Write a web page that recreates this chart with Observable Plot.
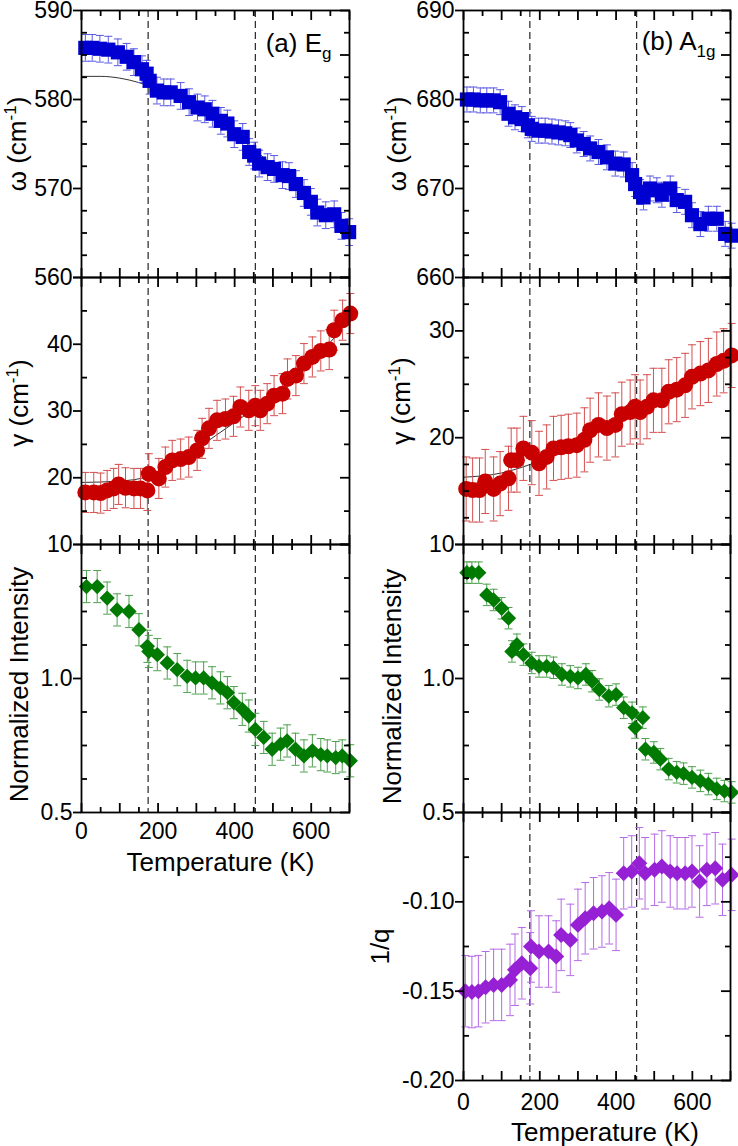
<!DOCTYPE html>
<html><head><meta charset="utf-8">
<script src="https://cdn.jsdelivr.net/npm/d3@7"></script>
<script src="https://cdn.jsdelivr.net/npm/@observablehq/plot@0.6"></script>
<style>
html,body{margin:0;padding:0;background:#fff;}
#chart{position:relative;width:738px;height:1146px;}
#chart svg{position:absolute;overflow:visible;background:transparent;}
</style></head><body><div id="chart"></div>
<script>
// ---------------- data ----------------
const transitionT = [174, 454];

// (a) Eg  frequency
const egOmegaT = [10, 28, 48, 70, 95, 118, 137, 158, 170, 178, 197, 215, 233, 259, 281, 303, 322, 342, 364, 381, 399, 421, 438, 451, 464, 486, 503, 525, 542, 560, 581, 599, 616, 638, 660, 679, 699];
const egOmega = [585.8, 585.8, 585.7, 585.6, 585.3, 584.8, 584.2, 583.4, 582.9, 582.1, 581.0, 580.8, 580.8, 580.4, 579.7, 579.1, 578.9, 578.4, 577.6, 577.3, 576.1, 575.8, 574.1, 573.7, 572.8, 572.4, 572.2, 571.5, 571.4, 570.5, 569.5, 568.5, 567.3, 567.0, 567.1, 565.8, 565.1];
const egOmegaErr = 1.5;
const egOmegaFitT = [0, 50, 100, 150, 200, 250, 300, 350, 400, 450, 500, 550, 600, 650, 700];
const egOmegaFit = [582.6, 582.6, 582.4, 581.9, 581.1, 580.1, 578.9, 577.6, 576.1, 574.4, 572.6, 570.7, 568.7, 566.6, 564.4];

// (a) Eg  linewidth
const egGammaT = [10, 32, 50, 67, 84, 97, 115, 137, 154, 172, 176, 202, 219, 237, 259, 280, 302, 315, 333, 354, 376, 397, 415, 437, 454, 467, 485, 503, 525, 538, 560, 581, 603, 625, 647, 660, 682, 702];
const egGamma = [17.8, 17.8, 17.7, 18.1, 18.4, 19.0, 18.5, 18.4, 18.4, 18.1, 20.6, 19.9, 21.6, 22.6, 22.8, 23.1, 24.1, 25.9, 27.4, 28.6, 28.8, 29.2, 30.6, 30.1, 30.8, 30.1, 31.1, 32.3, 32.6, 34.8, 35.3, 37.1, 38.1, 39.0, 39.2, 42.1, 43.6, 44.6];
const egGammaErr = 3.0;
const egGammaFitT = [0, 100, 175, 250, 350, 450, 550, 650, 700];
const egGammaFit = [19.3, 19.5, 20.2, 22.3, 26.3, 30.3, 34.5, 40.3, 43.8];

// (a) Eg  intensity
const egIntT = [13, 41, 67, 93, 124, 150, 172, 176, 198, 224, 250, 276, 298, 319, 341, 363, 381, 398, 420, 437, 454, 476, 498, 520, 537, 559, 581, 603, 625, 642, 664, 681, 702];
const egInt = [1.343, 1.343, 1.30, 1.256, 1.25, 1.182, 1.12, 1.101, 1.089, 1.058, 1.033, 1.008, 1.002, 1.002, 0.984, 0.965, 0.947, 0.91, 0.885, 0.86, 0.81, 0.78, 0.736, 0.755, 0.767, 0.736, 0.711, 0.73, 0.716, 0.711, 0.705, 0.711, 0.693];
const egIntErr = 0.06;

// (b) A1g frequency
const a1gOmegaT = [9, 26, 44, 61, 79, 96, 118, 135, 153, 169, 179, 197, 214, 232, 249, 267, 280, 297, 315, 332, 354, 376, 398, 420, 442, 450, 463, 472, 489, 507, 520, 542, 559, 581, 599, 621, 642, 664, 686, 703];
const a1gOmega = [680.0, 680.0, 679.9, 679.9, 679.9, 679.7, 678.4, 678.0, 677.8, 677.1, 676.7, 676.5, 676.5, 676.4, 676.3, 676.2, 676.0, 675.4, 675.0, 674.5, 674.1, 673.5, 672.8, 672.7, 671.5, 670.5, 669.6, 669.0, 670.0, 669.8, 669.3, 670.0, 668.7, 668.5, 667.0, 666.0, 666.6, 666.6, 664.9, 664.7];
const a1gOmegaErr = 1.4;

// (b) A1g linewidth
const a1gGammaT = [7, 24, 42, 57, 79, 96, 118, 125, 140, 157, 179, 198, 218, 236, 256, 275, 297, 317, 332, 354, 376, 398, 415, 437, 450, 463, 481, 498, 520, 538, 559, 581, 599, 621, 642, 664, 682, 703];
const a1gGamma = [15.2, 15.1, 15.1, 15.9, 15.2, 15.7, 16.2, 17.9, 17.9, 19.0, 18.6, 17.6, 18.2, 19.0, 19.1, 19.2, 19.3, 19.8, 20.7, 21.2, 20.9, 21.2, 22.2, 22.4, 22.9, 22.4, 22.9, 23.5, 23.5, 24.3, 24.5, 24.9, 25.7, 26.0, 26.3, 26.9, 27.2, 27.7];
const a1gGammaErr = 3.0;
const a1gGammaFitT = [0, 100, 175, 300, 450, 600, 700];
const a1gGammaFit = [16.3, 16.7, 17.5, 19.5, 22.5, 25.4, 27.5];

// (b) A1g intensity
const a1gIntT = [9, 22, 40, 61, 79, 100, 118, 127, 140, 157, 179, 198, 218, 236, 258, 280, 300, 321, 337, 356, 381, 400, 420, 442, 450, 470, 477, 499, 516, 538, 559, 577, 599, 621, 642, 664, 684, 703];
const a1gInt = [1.395, 1.395, 1.395, 1.312, 1.293, 1.262, 1.225, 1.101, 1.126, 1.089, 1.058, 1.045, 1.045, 1.04, 1.015, 1.008, 1.002, 1.015, 0.99, 0.959, 0.934, 0.94, 0.891, 0.872, 0.817, 0.854, 0.736, 0.724, 0.699, 0.662, 0.65, 0.645, 0.631, 0.618, 0.606, 0.588, 0.58, 0.575];
const a1gIntErr = 0.04;

// (b) A1g Fano asymmetry 1/q
const a1gQT = [5, 22, 39, 58, 79, 100, 122, 135, 153, 175, 177, 198, 223, 243, 256, 280, 300, 319, 341, 363, 382, 400, 420, 441, 461, 476, 501, 520, 542, 560, 581, 599, 619, 638, 660, 679, 703];
const a1gQ = [-0.150, -0.1505, -0.150, -0.1478, -0.1465, -0.1465, -0.1437, -0.138, -0.1344, -0.1372, -0.125, -0.1278, -0.1278, -0.1306, -0.1185, -0.1213, -0.1129, -0.1092, -0.1064, -0.1054, -0.1036, -0.1073, -0.084, -0.083, -0.0784, -0.084, -0.0821, -0.0802, -0.083, -0.084, -0.084, -0.083, -0.0886, -0.0821, -0.0812, -0.0877, -0.0849];
const a1gQErr = 0.02;

// tick values
const xDomain = [0, 700];
const xMajorTicks = [0, 100, 200, 300, 400, 500, 600, 700];
const xMinorTicks = [50, 150, 250, 350, 450, 550, 650];
const xLabelTicks = [0, 200, 400, 600];

// ---------------- helpers ----------------
const FONT = "'Liberation Sans', Arial, Helvetica, sans-serif";
const cap = {draw(ctx, size) { const w = Math.sqrt(size) / 2; ctx.moveTo(-w, 0); ctx.lineTo(w, 0); }};
const table = (T, V, E) => T.map((t, i) => ({T: t, v: V[i], e: E}));
const line = (T, V) => T.map((t, i) => ({T: t, v: V[i]}));

function makePanel(c) {
  const geo = c.col === 0 ? {left: 0, width: 368, ml: 81, mr: 19} : {left: 368, width: 370, ml: 95, mr: 8};
  const mt = 20, mb = c.bottom ? 80 : 20;
  const s = c.series;
  const marks = [
    Plot.ruleX(transitionT, {stroke: "#111", strokeWidth: 1.1, strokeDasharray: "7,4"}),
  ];
  if (c.fit) marks.push(Plot.line(c.fit, {x: "T", y: "v", stroke: "black", strokeWidth: 0.8, curve: "monotone-x"}));
  marks.push(
    Plot.ruleX(s.data, {x: "T", y1: d => d.v - d.e, y2: d => d.v + d.e, stroke: s.err, strokeWidth: 1}),
    Plot.dot(s.data, {x: "T", y: d => d.v - d.e, symbol: cap, r: 4.5, stroke: s.err, strokeWidth: 1, fill: "none"}),
    Plot.dot(s.data, {x: "T", y: d => d.v + d.e, symbol: cap, r: 4.5, stroke: s.err, strokeWidth: 1, fill: "none"}),
    Plot.dot(s.data, {x: "T", y: "v", symbol: s.symbol, r: s.r, fill: s.color, stroke: "none"}),
    Plot.frame({stroke: "black", strokeWidth: 1.8}),
    // x ticks, inward on top and bottom
    Plot.axisX({anchor: "top", ticks: xMajorTicks, tickSize: -9, strokeWidth: 1.8, fill: "none", label: null}),
    Plot.axisX({anchor: "top", ticks: xMinorTicks, tickSize: -5, strokeWidth: 1.8, fill: "none", label: null}),
    Plot.axisX({anchor: "bottom", ticks: xMajorTicks, tickSize: -9, strokeWidth: 1.8, fill: "none", label: null}),
    Plot.axisX({anchor: "bottom", ticks: xMinorTicks, tickSize: -5, strokeWidth: 1.8, fill: "none", label: null}),
    // y ticks
    Plot.axisY({anchor: "left", ticks: c.yOut, tickSize: 8, strokeWidth: 1.8, fill: "none", label: null}),
    Plot.axisY({anchor: "left", ticks: c.yMinor.concat(c.yMajor.filter(v => !c.yOut.includes(v))), tickSize: -6, strokeWidth: 1.8, fill: "none", label: null}),
    Plot.axisY({anchor: "right", ticks: c.yMajor, tickSize: -10, strokeWidth: 1.8, fill: "none", label: null}),
    Plot.axisY({anchor: "right", ticks: c.yMinor, tickSize: -6, strokeWidth: 1.8, fill: "none", label: null}),
    Plot.axisY({anchor: "left", ticks: c.yLabels, tickSize: 0, tickPadding: 9, tickFormat: c.yFmt, fontSize: 23, fill: "black", label: null}),
    Plot.text([c.yTitle], {text: d => d, frameAnchor: "left", textAnchor: "middle", lineAnchor: "middle", rotate: -90, dx: c.titleDx, dy: c.titleDy || 0, fontSize: 26, fill: "black"})
  );
  if (c.bottom) {
    marks.push(
      Plot.axisX({anchor: "bottom", ticks: xLabelTicks, tickSize: 0, tickPadding: c.col === 0 ? 10 : 13, tickFormat: d => String(d), fontSize: 23, fill: "black", label: null}),
      Plot.text(["Temperature (K)"], {text: d => d, frameAnchor: "bottom", textAnchor: "middle", lineAnchor: "top", dx: c.col === 0 ? 5 : 8, dy: c.col === 0 ? 40 : 42, fontSize: 26, fill: "black"})
    );
  }
  if (c.note) {
    marks.push(Plot.text([c.note], {text: d => d, frameAnchor: "top-right", textAnchor: "end", lineAnchor: "top", dx: c.noteDx, dy: c.noteDy, fontSize: 26, fill: "black"}));
  }
  const svg = Plot.plot({
    width: geo.width, height: c.frameH + mt + mb,
    marginLeft: geo.ml, marginRight: geo.mr, marginTop: mt, marginBottom: mb,
    x: {domain: xDomain},
    y: {domain: c.yDomain},
    style: {fontFamily: FONT, background: "transparent", overflow: "visible", color: "black"},
    marks
  });
  svg.style.left = geo.left + "px";
  svg.style.top = (c.frameTop - mt) + "px";
  richText(svg);
  document.getElementById("chart").appendChild(svg);
}

function tspan(parent, str, attrs) {
  const el = document.createElementNS("http://www.w3.org/2000/svg", "tspan");
  for (const k in attrs) el.setAttribute(k, attrs[k]);
  el.textContent = str;
  parent.appendChild(el);
}
function richText(svg) {
  svg.querySelectorAll("text").forEach(t => {
    const s = t.textContent;
    if (s.endsWith("(cm-1)")) {
      t.textContent = "";
      tspan(t, s.slice(0, -3), {});
      tspan(t, "-1", {dy: -10, "font-size": 17});
      tspan(t, ")", {dy: 10});
    } else if (s === "(a) Eg") {
      t.textContent = "";
      tspan(t, "(a) E", {});
      tspan(t, "g", {dy: 7, "font-size": 17});
    } else if (s === "(b) A1g") {
      t.textContent = "";
      tspan(t, "(b) A", {});
      tspan(t, "1g", {dy: 7, "font-size": 17});
    }
  });
}

const fmtInt = d => String(d);
const fmt1 = d => d.toFixed(1);
const fmt2 = d => d.toFixed(2);

const BLUE = {color: "#0000d2", err: "#5a5ae4", symbol: "square", r: 8};
const RED = {color: "#c80000", err: "#d45050", symbol: "circle", r: 8};
const GREEN = {color: "#007a00", err: "#4da04d", symbol: "diamond2", r: 6.9};
const PURPLE = {color: "#9620d4", err: "#b56ae6", symbol: "diamond2", r: 7.2};

// ---------------- left column: (a) Eg ----------------
makePanel({col: 0, frameTop: 10, frameH: 267, yDomain: [560, 590],
  yLabels: [560, 570, 580, 590], yOut: [560, 570, 580, 590],
  yMajor: [560, 565, 570, 575, 580, 585, 590], yMinor: [562.5, 567.5, 572.5, 577.5, 582.5, 587.5],
  yFmt: fmtInt, yTitle: "ω (cm-1)", titleDx: -64, titleDy: 0,
  series: {...BLUE, data: table(egOmegaT, egOmega, egOmegaErr)},
  fit: line(egOmegaFitT, egOmegaFit), note: "(a) Eg", noteDx: -18, noteDy: 23.5});
makePanel({col: 0, frameTop: 277, frameH: 267, yDomain: [10, 50],
  yLabels: [10, 20, 30, 40], yOut: [10, 20, 30, 40, 50],
  yMajor: [10, 20, 30, 40, 50], yMinor: [15, 25, 35, 45],
  yFmt: fmtInt, yTitle: "γ (cm-1)", titleDx: -62, titleDy: -8,
  series: {...RED, data: table(egGammaT, egGamma, egGammaErr)},
  fit: line(egGammaFitT, egGammaFit)});
makePanel({col: 0, frameTop: 544, frameH: 268, yDomain: [0.5, 1.5], bottom: true,
  yLabels: [0.5, 1.0], yOut: [0.5, 1.0, 1.5],
  yMajor: [0.5, 1.0, 1.5], yMinor: [0.625, 0.75, 0.875, 1.125, 1.25, 1.375],
  yFmt: fmt1, yTitle: "Normalized Intensity", titleDx: -62, titleDy: 6,
  series: {...GREEN, data: table(egIntT, egInt, egIntErr)}});

// ---------------- right column: (b) A1g ----------------
makePanel({col: 1, frameTop: 10, frameH: 267, yDomain: [660, 690],
  yLabels: [660, 670, 680, 690], yOut: [660, 670, 680, 690],
  yMajor: [660, 665, 670, 675, 680, 685, 690], yMinor: [662.5, 667.5, 672.5, 677.5, 682.5, 687.5],
  yFmt: fmtInt, yTitle: "ω (cm-1)", titleDx: -66, titleDy: 0,
  series: {...BLUE, data: table(a1gOmegaT, a1gOmega, a1gOmegaErr)},
  note: "(b) A1g", noteDx: -15, noteDy: 21.5});
makePanel({col: 1, frameTop: 277, frameH: 267, yDomain: [10, 35],
  yLabels: [10, 20, 30], yOut: [10, 20, 30],
  yMajor: [10, 20, 30], yMinor: [12.5, 15, 17.5, 22.5, 25, 27.5, 32.5, 35],
  yFmt: fmtInt, yTitle: "γ (cm-1)", titleDx: -62, titleDy: -10,
  series: {...RED, data: table(a1gGammaT, a1gGamma, a1gGammaErr)},
  fit: line(a1gGammaFitT, a1gGammaFit)});
makePanel({col: 1, frameTop: 544, frameH: 268, yDomain: [0.5, 1.5],
  yLabels: [0.5, 1.0], yOut: [0.5, 1.0, 1.5],
  yMajor: [0.5, 1.0, 1.5], yMinor: [0.625, 0.75, 0.875, 1.125, 1.25, 1.375],
  yFmt: fmt1, yTitle: "Normalized Intensity", titleDx: -71, titleDy: 8,
  series: {...GREEN, data: table(a1gIntT, a1gInt, a1gIntErr)}});
makePanel({col: 1, frameTop: 812, frameH: 268, yDomain: [-0.20, -0.05], bottom: true,
  yLabels: [-0.20, -0.15, -0.10], yOut: [-0.20, -0.15, -0.10, -0.05],
  yMajor: [-0.20, -0.15, -0.10, -0.05], yMinor: [-0.175, -0.125, -0.075],
  yFmt: fmt2, yTitle: "1/q", titleDx: -83, titleDy: 0,
  series: {...PURPLE, data: table(a1gQT, a1gQ, a1gQErr)}});
</script></body></html>
